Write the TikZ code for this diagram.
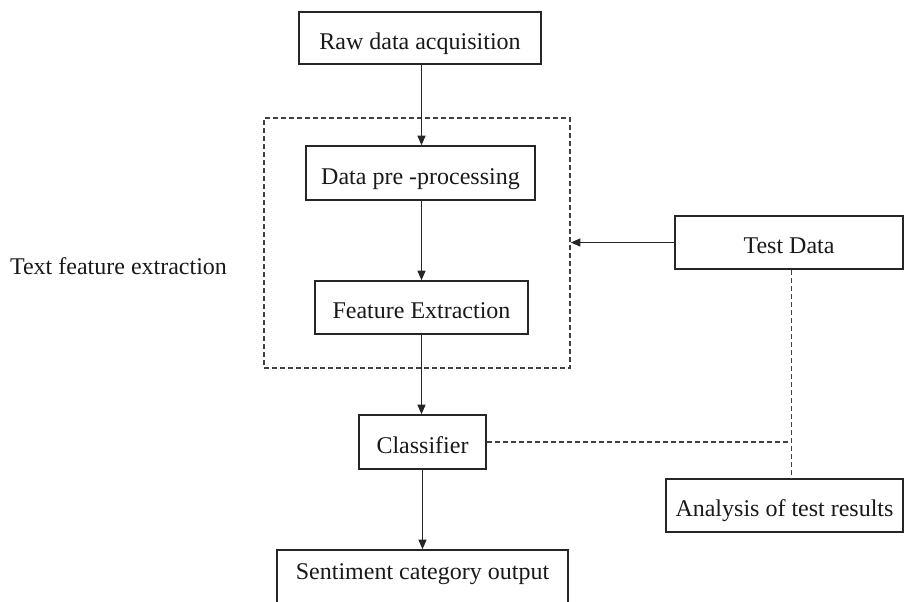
\documentclass[tikz,border=0pt]{standalone}
\usepackage{fontspec}
\setmainfont{Liberation Serif}
\usetikzlibrary{arrows.meta}
\begin{document}
\begin{tikzpicture}[x=0.5pt,y=-0.5pt, font=\fontsize{12}{14}\selectfont,
  box/.style={draw=black!85, line width=0.75pt, inner sep=0pt, align=center, text=black!90, text height=13.6pt, text depth=2.5pt},
  arr/.style={-{Triangle[length=4.8pt,width=4pt]}, draw=black!85, line width=0.6pt},
  dsh/.style={draw=black!75, line width=0.75pt, dash pattern=on 2.5pt off 1.5pt}]
\useasboundingbox (0,0) rectangle (906,601);
\clip (0,0) rectangle (906,601);
\node[box, minimum width=121pt, minimum height=26pt] (raw) at (420,38) {Raw data acquisition};
\node[dsh, minimum width=153pt, minimum height=125pt, inner sep=0pt] (group) at (417,243) {};
\node[box, minimum width=114.5pt, minimum height=27pt] (pre) at (420.5,173) {Data pre -processing};
\node[box, minimum width=106.5pt, minimum height=26.5pt] (feat) at (421.5,307.5) {Feature Extraction};
\node[box, minimum width=63.5pt, minimum height=27pt] (cls) at (422.5,442) {Classifier};
\node[box, minimum width=145.5pt, minimum height=28pt] (sent) at (422.5,578) {\raisebox{4.75pt}{Sentiment category output}};
\node[box, minimum width=114pt, minimum height=26.5pt] (test) at (789,242.5) {Test Data};
\node[box, minimum width=118.5pt, minimum height=26.5pt] (ana) at (784.5,505.5) {Analysis of test results};
\node[text=black!90, inner sep=0pt] (lbl) at (118.5,266) {Text feature extraction};
\coordinate (j) at (791.5,442);
\draw[arr] (raw.south -| 421.5,0) -- (pre.north -| 421.5,0);
\draw[arr] (pre.south -| 421.5,0) -- (feat.north -| 421.5,0);
\draw[arr] (feat.south -| 421.5,0) -- (cls.north -| 421.5,0);
\draw[arr] (cls.south -| 422.5,0) -- (sent.north -| 422.5,0);
\draw[arr] (test.west) -- (group.east |- test.west);
\draw[dsh] (cls.east) -- (j);
\draw[dsh] (test.south -| j) -- (ana.north -| j);
\end{tikzpicture}
\end{document}
